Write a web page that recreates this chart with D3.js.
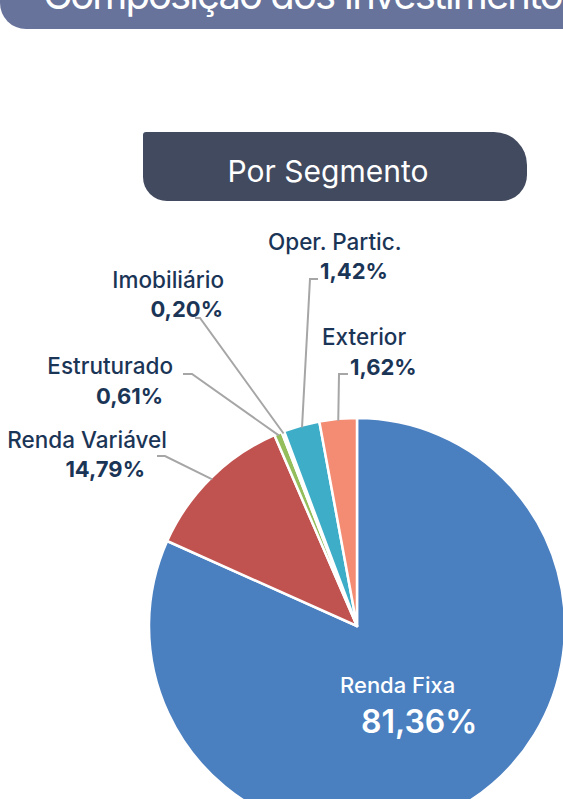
<!DOCTYPE html>
<html lang='pt'>
<head>
<meta charset='UTF-8'>
<title>Por Segmento</title>
<script src='https://d3js.org/d3.v7.min.js'></script>
<style>
  body { margin: 0; background: #fff; }
  svg { display: block; }
  text { font-family: Inter, 'Noto Sans', sans-serif; }
</style>
</head>
<body>
<div id='chart'></div>
<script>
// data
const segments = ['Renda Fixa', 'Renda Variável', 'Estruturado', 'Imobiliário', 'Oper. Partic.', 'Exterior'];
const percentLabels = [81.36, 14.79, 0.61, 0.20, 1.42, 1.62];
// slice sizes as they are drawn in the picture
const shares = [81.7, 11.8, 0.6, 0.2, 2.8, 2.9];
const colors = ['#4a7fc0', '#c0534f', '#94bd5c', '#7e66a8', '#3dadc8', '#f38c72'];

const W = 563, H = 799;
const cx = 357, cy = 626, R = 208;

const svg = d3.select('#chart').append('svg').attr('width', W).attr('height', H);

// header banner (cut off at the top)
svg.append('path')
  .attr('d', `M0,-20 H${W} V29 H26 A26,26 0 0 1 0,3 Z`)
  .attr('fill', '#67739b');
svg.append('text')
  .attr('x', 43).attr('y', 9)
  .attr('font-size', 40)
  .attr('textLength', 540)
  .attr('lengthAdjust', 'spacing')
  .attr('fill', '#fff')
  .text('Composição dos Investimentos');

// "Por Segmento" pill
const px = 143, py = 132, pw = 384, ph = 69;
const rtl = 3, rtr = 33, rbr = 26, rbl = 24;
svg.append('path')
  .attr('d', `M${px + rtl},${py} H${px + pw - rtr} A${rtr},${rtr} 0 0 1 ${px + pw},${py + rtr}
     V${py + ph - rbr} A${rbr},${rbr} 0 0 1 ${px + pw - rbr},${py + ph}
     H${px + rbl} A${rbl},${rbl} 0 0 1 ${px},${py + ph - rbl}
     V${py + rtl} A${rtl},${rtl} 0 0 1 ${px + rtl},${py} Z`)
  .attr('fill', '#414a5e');
svg.append('text')
  .attr('x', 328).attr('y', 182)
  .attr('text-anchor', 'middle')
  .attr('font-size', 30)
  .attr('font-weight', 400)
  .attr('fill', '#fff')
  .text('Por Segmento');

// pie
const pie = d3.pie().sort(null).value(d => d).startAngle(0).endAngle(2 * Math.PI);
const arcs = pie(shares);
const arc = d3.arc().innerRadius(0).outerRadius(R);

const g = svg.append('g').attr('transform', `translate(${cx},${cy})`);
g.selectAll('path.slice')
  .data(arcs)
  .join('path')
  .attr('class', 'slice')
  .attr('d', arc)
  .attr('fill', (d, i) => colors[i])
  .attr('stroke', '#fff')
  .attr('stroke-width', 2.5)
  .attr('stroke-linejoin', 'round');

const fmt = v => d3.format('.2f')(v).replace('.', ',') + '%';

// label layout (absolute page positions)
const layout = [
  null,
  { anchor: 'end', nx: 167, ny: 448, vx: 145, vy: 477, elbow: [[157, 456], [165, 456]] },
  { anchor: 'end', nx: 173, ny: 374, vx: 163, vy: 404, elbow: [[183, 374], [192, 374]] },
  { anchor: 'end', nx: 224, ny: 288, vx: 223, vy: 317, elbow: [[195, 318], [200, 318]] },
  { anchor: 'start', nx: 268, ny: 250, vx: 320, vy: 279, elbow: [[318, 279], [310, 279]] },
  { anchor: 'start', nx: 322, ny: 345, vx: 350, vy: 375, elbow: [[348, 374], [339, 374]] }
];

const outerPoint = (a, r) => [cx + r * Math.sin(a), cy - r * Math.cos(a)];

arcs.forEach((d, i) => {
  const L = layout[i];
  if (!L) return;
  const mid = (d.startAngle + d.endAngle) / 2;
  const p = outerPoint(mid, R - 2);
  svg.append('path')
    .attr('d', d3.line()([L.elbow[0], L.elbow[1], p]))
    .attr('fill', 'none')
    .attr('stroke', '#a6a6a6')
    .attr('stroke-width', 2);
  svg.append('text')
    .attr('x', L.nx).attr('y', L.ny)
    .attr('text-anchor', L.anchor)
    .attr('font-size', 22.5)
    .attr('font-weight', 500)
    .attr('fill', '#1b3557')
    .text(segments[i]);
  svg.append('text')
    .attr('x', L.vx).attr('y', L.vy)
    .attr('text-anchor', L.anchor)
    .attr('font-size', 22)
    .attr('font-weight', 700)
    .attr('fill', '#1b3557')
    .text(fmt(percentLabels[i]));
});

// Renda Fixa label inside the slice
svg.append('text')
  .attr('x', 340).attr('y', 693)
  .attr('font-size', 22)
  .attr('font-weight', 500)
  .attr('fill', '#fff')
  .text(segments[0]);
svg.append('text')
  .attr('x', 361).attr('y', 733)
  .attr('font-size', 32)
  .attr('font-weight', 600)
  .attr('fill', '#fff')
  .text(fmt(percentLabels[0]));
</script>
</body>
</html>
